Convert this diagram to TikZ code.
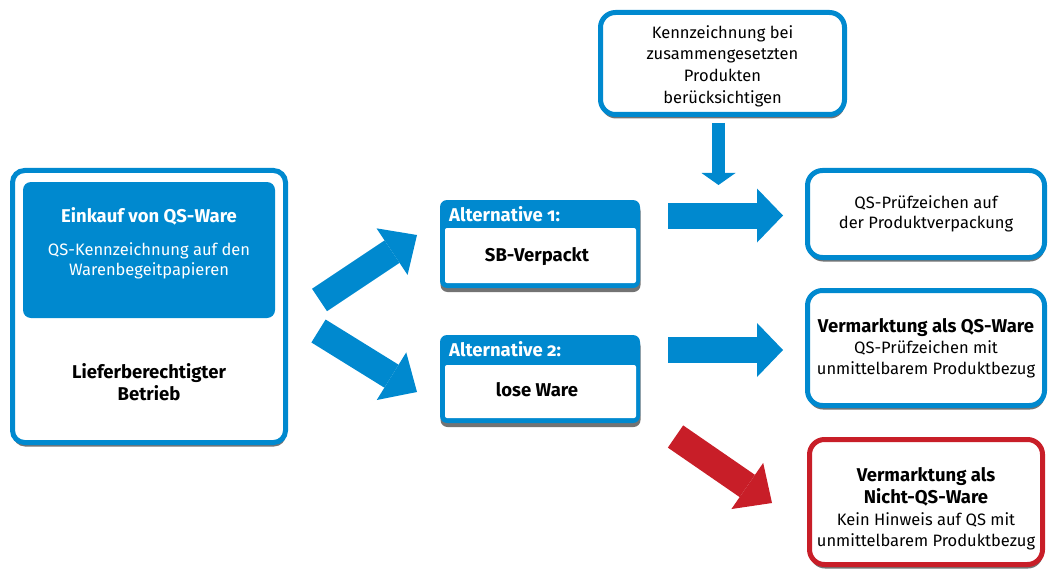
\documentclass[tikz,border=0pt]{standalone}
\usepackage{fontspec}
\setmainfont{Fira Sans}[Numbers=OldStyle]
\usetikzlibrary{arrows.meta,shadows}
\definecolor{qsblue}{RGB}{0,137,207}
\definecolor{qsred}{RGB}{200,30,40}
\newcommand\txtreg{\fontsize{16.5}{20.5}\selectfont}
\newcommand\txtwide{\fontsize{16.5}{21.7}\selectfont}
\newcommand\txtbold{\fontsize{18.5}{22}\selectfont\bfseries}
\begin{document}
\begin{tikzpicture}[x=1pt,y=-1pt,
  shadowed/.style={drop shadow={shadow xshift=0.5pt,shadow yshift=-4pt,opacity=0.55,fill=black}},
  outline/.style={draw=qsblue,line width=5pt,fill=white,shadowed,inner sep=0pt},
  rbox/.style={outline,rounded corners=15pt,align=center,font=\txtreg},
  altbox/.style={fill=qsblue,rounded corners=7pt,shadowed,minimum width=200pt,minimum height=88pt,inner sep=0pt},
  altin/.style={fill=white,rounded corners=2pt,minimum width=191pt,minimum height=55pt,inner sep=0pt},
  fat/.style={line width=27pt,draw=qsblue,-{Triangle[width=56pt,length=30pt,line width=0pt]}},
  flat/.style={line width=26pt,draw=qsblue,-{Triangle[width=54pt,length=26pt,line width=0pt]}},
  thin/.style={line width=13pt,draw=qsblue,-{Triangle[width=34pt,length=12pt,line width=0pt]}},
  hdr/.style={font=\txtbold,text=white,anchor=west,inner sep=0pt},
  lbl/.style={font=\txtbold,inner sep=0pt,align=center}
]
\useasboundingbox (0,0) rectangle (1048,572);

% left box
\node[outline,rounded corners=12pt,minimum width=273pt,minimum height=272pt] (lb) at (149,306.5) {};
\node[fill=qsblue,rounded corners=8pt,minimum width=252pt,minimum height=136pt,inner sep=0pt] (lbin) at (149,250) {};
\node[lbl,text=white] (lt1) at (149,216) {Einkauf von QS-Ware};
\node[font=\txtreg,text=white,align=center,inner sep=0pt] (lt2) at (149,261) {QS-Kennzeichnung auf den\\Warenbegeitpapieren};
\node[lbl] (lt3) at (149,382) {Lieferberechtigter\\Betrieb};

% alternative boxes
\node[altbox] (a1) at (540,244) {};
\node[altin] (a1in) at (540.5,255.5) {};
\node[hdr] (a1h) at (449,214) {Alternative 1:};
\node[lbl] (a1t) at (537,257) {SB-Verpackt};

\node[altbox] (a2) at (540,379) {};
\node[altin,minimum height=53pt] (a2in) at (540.5,391.5) {};
\node[hdr] (a2h) at (449,349) {Alternative 2:};
\node[lbl] (a2t) at (537,390) {lose Ware};

% top box
\node[rbox,font=\txtwide,minimum width=244pt,minimum height=102pt] (top) at (722.5,63.5) {};
\node[font=\txtwide,align=center,inner sep=0pt] (topt) at (722.5,66)
  {Kennzeichnung bei\\zusammengesetzten\\Produkten\\berücksichtigen};

% right boxes
\node[rbox,minimum width=237pt,minimum height=87pt] (r1) at (926,214)
  {QS-Prüfzeichen auf\\der Produktverpackung};
\node[rbox,minimum width=237pt,minimum height=115pt] (r2) at (926,348)
  {{\txtbold Vermarktung als QS-Ware}\\[1pt]QS-Prüfzeichen mit\\unmittelbarem Produktbezug};
\node[rbox,draw=qsred,minimum width=233pt,minimum height=125pt] (r3) at (926,502) {};
\node[font=\txtwide,align=center,inner sep=0pt] (r3t) at (926,509)
  {{\txtbold Vermarktung als}\\{\txtbold Nicht-QS-Ware}\\Kein Hinweis auf QS mit\\unmittelbarem Produktbezug};

% arrow end points
\coordinate (d1s) at (319.5,300);
\coordinate (d1e) at (417,235);
\coordinate (d2s) at (318.5,331);
\coordinate (d2e) at (417,392);
\coordinate (h1s) at (668,215.5);
\coordinate (h1e) at (783,215.5);
\coordinate (h2s) at (668,350);
\coordinate (h2e) at (783,350);
\coordinate (vs) at (718.5,123);
\coordinate (ve) at (718.5,185);
\coordinate (rs) at (675.5,436.5);
\coordinate (re) at (772,503);

\draw[fat] (d1s) -- (d1e);
\draw[fat] (d2s) -- (d2e);
\draw[flat] (h1s) -- (h1e);
\draw[flat] (h2s) -- (h2e);
\draw[thin] (vs) -- (ve);
\draw[fat,draw=qsred] (rs) -- (re);
\end{tikzpicture}
\end{document}
